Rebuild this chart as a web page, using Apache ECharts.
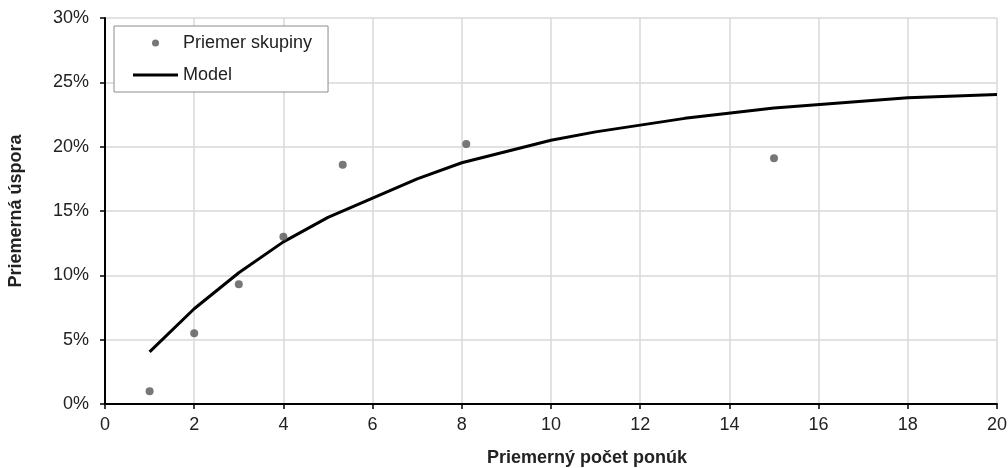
<!DOCTYPE html>
<html>
<head>
<meta charset="utf-8">
<script src="https://cdn.jsdelivr.net/npm/echarts@6/dist/echarts.min.js"></script>
<style>
html,body{margin:0;padding:0;background:#fff;}
#chart{width:1008px;height:468px;}
</style>
</head>
<body>
<div id="chart"></div>
<script>
// Group averages (x = average number of bids, y = average saving in %)
const groupX = [1.0, 2.0, 3.0, 4.0, 5.33, 8.1, 15.0];
const groupY = [1.0, 5.5, 9.3, 13.0, 18.6, 20.2, 19.1];
// Model curve
const modelX = [1, 2, 3, 4, 5, 6, 7, 8, 10, 11, 13, 15, 18, 20];
const modelY = [4.05, 7.4, 10.2, 12.6, 14.5, 16.0, 17.5, 18.75, 20.5, 21.15, 22.2, 23.0, 23.8, 24.05];
const xTicks = [0, 2, 4, 6, 8, 10, 12, 14, 16, 18, 20];
const yTicks = [0, 5, 10, 15, 20, 25, 30];

const chart = echarts.init(document.getElementById('chart'), null, {renderer: 'canvas'});
const font = '"Liberation Sans", Arial, sans-serif';
chart.setOption({
  animation: false,
  backgroundColor: '#ffffff',
  textStyle: {fontFamily: font},
  grid: {left: 105, right: 11, top: 18, bottom: 64, containLabel: false, outerBoundsMode: 'none'},
  legend: {
    orient: 'vertical',
    left: 114, top: 26,
    padding: [8, 16, 8, 19],
    itemGap: 14,
    itemWidth: 45,
    itemHeight: 7,
    borderColor: '#8c8c8c',
    borderWidth: 1,
    backgroundColor: '#ffffff',
    textStyle: {fontFamily: font, fontSize: 18, color: '#222'},
    data: [
      {name: 'Priemer skupiny', icon: 'circle'},
      {name: 'Model', icon: 'path://M0,0H45V3H0Z'}
    ]
  },
  xAxis: {
    type: 'value',
    min: xTicks[0], max: xTicks[xTicks.length - 1], interval: 2,
    name: 'Priemerný počet ponúk',
    nameLocation: 'middle', nameGap: 45,
    nameTextStyle: {fontFamily: font, fontSize: 18, fontWeight: 'bold', color: '#222', padding: [0, 0, 0, 72]},
    axisLine: {show: true, onZero: false, lineStyle: {color: '#000', width: 2}},
    axisTick: {show: true, length: 5, lineStyle: {color: '#000', width: 1.5}},
    axisLabel: {fontFamily: font, fontSize: 18, color: '#222', margin: 12},
    splitLine: {show: true, lineStyle: {color: '#d9d9d9', width: 1.5}}
  },
  yAxis: {
    type: 'value',
    min: yTicks[0], max: yTicks[yTicks.length - 1], interval: 5,
    name: 'Priemerná úspora',
    nameLocation: 'middle', nameGap: 80, nameRotate: 90,
    nameTextStyle: {fontFamily: font, fontSize: 18, fontWeight: 'bold', color: '#222'},
    axisLine: {show: true, onZero: false, lineStyle: {color: '#000', width: 2}},
    axisTick: {show: true, length: 5, lineStyle: {color: '#000', width: 1.5}},
    axisLabel: {fontFamily: font, fontSize: 18, color: '#222', margin: 16, formatter: '{value}%'},
    splitLine: {show: true, lineStyle: {color: '#d9d9d9', width: 1.5}}
  },
  series: [
    {
      name: 'Priemer skupiny',
      type: 'scatter',
      symbol: 'circle',
      symbolSize: 8,
      itemStyle: {color: '#555555'},
      data: groupX.map((x, i) => [x, groupY[i]]),
      z: 3
    },
    {
      name: 'Model',
      type: 'line',
      symbol: 'none',
      showSymbol: false,
      smooth: false,
      lineStyle: {color: '#000', width: 3},
      itemStyle: {color: '#000'},
      data: modelX.map((x, i) => [x, modelY[i]]),
      z: 2
    }
  ]
});
</script>
</body>
</html>
